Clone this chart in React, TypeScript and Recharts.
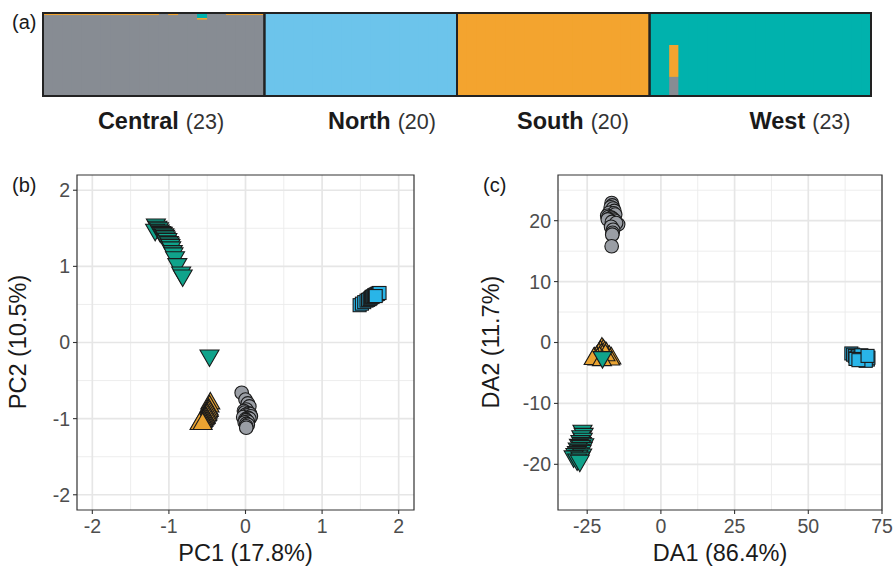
import React from 'react';
import {
  BarChart,
  Bar,
  XAxis,
  YAxis,
  ReferenceArea,
  ScatterChart,
  Scatter,
  CartesianGrid,
} from 'recharts';

// ---------- Panel (a): ancestry proportions per individual ----------
const populations = ['Central', 'North', 'South', 'West'];
const sampleSizes = [23, 20, 20, 23];

const ancestryCentral = [
  0.975, 0.975, 0.975, 0.975, 0.975, 0.975, 0.975, 0.975, 0.975, 0.975, 0.975, 0.975,
  1, 0.975, 1, 1, 0.92, 1, 1, 0.975, 0.975, 0.975, 0.975,
  0, 0, 0, 0, 0, 0, 0, 0, 0, 0, 0, 0, 0, 0, 0, 0, 0, 0, 0, 0,
  0, 0, 0, 0, 0, 0, 0, 0, 0, 0, 0, 0, 0, 0, 0, 0, 0, 0, 0, 0,
  0, 0, 0.23, 0, 0, 0, 0, 0, 0, 0, 0, 0, 0, 0, 0, 0, 0, 0, 0, 0, 0, 0, 0,
];
const ancestryNorth = [
  0, 0, 0, 0, 0, 0, 0, 0, 0, 0, 0, 0, 0, 0, 0, 0, 0, 0, 0, 0, 0, 0, 0,
  1, 1, 1, 1, 1, 1, 1, 1, 1, 1, 1, 1, 1, 1, 1, 1, 1, 1, 1, 1,
  0, 0, 0, 0, 0, 0, 0, 0, 0, 0, 0, 0, 0, 0, 0, 0, 0, 0, 0, 0,
  0, 0, 0, 0, 0, 0, 0, 0, 0, 0, 0, 0, 0, 0, 0, 0, 0, 0, 0, 0, 0, 0, 0,
];
const ancestrySouth = [
  0.025, 0.025, 0.025, 0.025, 0.025, 0.025, 0.025, 0.025, 0.025, 0.025, 0.025, 0.025,
  0, 0.025, 0, 0, 0.02, 0, 0, 0.025, 0.025, 0.025, 0.025,
  0, 0, 0, 0, 0, 0, 0, 0, 0, 0, 0, 0, 0, 0, 0, 0, 0, 0, 0, 0,
  1, 1, 1, 1, 1, 1, 1, 1, 1, 1, 1, 1, 1, 1, 1, 1, 1, 1, 1, 1,
  0, 0, 0.385, 0, 0, 0, 0, 0, 0, 0, 0, 0, 0, 0, 0, 0, 0, 0, 0, 0, 0, 0, 0,
];
const ancestryWest = [
  0, 0, 0, 0, 0, 0, 0, 0, 0, 0, 0, 0, 0, 0, 0, 0, 0.06, 0, 0, 0, 0, 0, 0,
  0, 0, 0, 0, 0, 0, 0, 0, 0, 0, 0, 0, 0, 0, 0, 0, 0, 0, 0, 0,
  0, 0, 0, 0, 0, 0, 0, 0, 0, 0, 0, 0, 0, 0, 0, 0, 0, 0, 0, 0,
  1, 1, 0.385, 1, 1, 1, 1, 1, 1, 1, 1, 1, 1, 1, 1, 1, 1, 1, 1, 1, 1, 1, 1,
];

// ---------- Panel (b): PCA scores [PC1, PC2] ----------
const pcaCentral = [
  [-0.05, -0.66], [0.0, -0.75], [0.03, -0.8], [0.05, -0.84], [0.01, -0.88], [-0.02, -0.9],
  [-0.01, -0.92], [0.04, -0.93], [0.06, -0.94], [0.0, -0.95], [0.02, -0.96], [0.07, -0.97],
  [-0.03, -0.98], [0.03, -0.99], [0.05, -1.0], [0.0, -1.01], [0.01, -1.02], [0.03, -1.04],
  [-0.01, -1.05], [0.01, -1.07], [0.03, -1.08], [0.01, -1.1], [0.01, -1.12],
];
const pcaNorth = [
  [1.49, 0.49], [1.52, 0.51], [1.55, 0.53], [1.58, 0.55], [1.6, 0.56], [1.62, 0.57],
  [1.63, 0.58], [1.64, 0.59], [1.65, 0.6], [1.66, 0.6], [1.67, 0.61], [1.68, 0.62],
  [1.69, 0.62], [1.7, 0.63], [1.71, 0.63], [1.72, 0.64], [1.73, 0.64], [1.74, 0.65],
  [1.75, 0.65], [1.7, 0.61],
];
const pcaSouth = [
  [-0.46, -0.8], [-0.47, -0.84], [-0.48, -0.88], [-0.48, -0.9], [-0.49, -0.92], [-0.5, -0.94],
  [-0.5, -0.95], [-0.51, -0.96], [-0.52, -0.98], [-0.52, -0.99], [-0.53, -1.0], [-0.54, -1.01],
  [-0.55, -1.02], [-0.55, -1.03], [-0.56, -1.04], [-0.57, -1.05], [-0.58, -1.06], [-0.59, -1.06],
  [-0.6, -1.07], [-0.56, -1.07],
];
const pcaWest = [
  [-1.17, 1.55], [-1.15, 1.52], [-1.13, 1.5], [-1.18, 1.48], [-1.12, 1.47], [-1.1, 1.45],
  [-1.08, 1.44], [-1.06, 1.42], [-1.05, 1.4], [-1.04, 1.38], [-1.02, 1.36], [-1.03, 1.33],
  [-1.0, 1.32], [-0.99, 1.3], [-0.98, 1.28], [-0.97, 1.25], [-0.95, 1.2], [-0.94, 1.17],
  [-0.92, 1.12], [-0.89, 1.03], [-0.84, 0.92], [-0.82, 0.88], [-0.47, -0.17],
];

// ---------- Panel (c): DAPC scores [DA1, DA2] ----------
const daCentral = [
  [-16.7, 22.9], [-16.5, 22.5], [-17.0, 22.2], [-16.2, 22.0], [-15.8, 21.6], [-17.5, 21.3],
  [-16.0, 21.2], [-15.5, 21.0], [-18.2, 20.8], [-17.8, 20.6], [-16.8, 20.5], [-16.3, 20.3],
  [-17.2, 20.1], [-15.6, 20.0], [-18.0, 20.2], [-16.6, 19.8], [-14.5, 19.4], [-15.2, 19.6],
  [-16.9, 19.0], [-16.2, 18.5], [-16.4, 18.0], [-16.5, 17.7], [-16.7, 15.8],
];
const daNorth = [
  [64.6, -1.8], [65.2, -2.0], [65.8, -2.2], [66.3, -2.5], [66.8, -2.3], [67.3, -2.6],
  [67.8, -2.8], [68.2, -2.4], [68.6, -2.7], [69.0, -2.5], [69.3, -2.9], [69.6, -2.3],
  [69.9, -2.6], [70.2, -2.8], [70.4, -2.5], [68.0, -2.1], [66.0, -2.7], [69.5, -3.0],
  [67.0, -2.9], [70.1, -2.2],
];
const daSouth = [
  [-20.0, -1.0], [-19.5, -1.3], [-20.5, -1.5], [-19.0, -1.6], [-21.0, -1.9], [-18.5, -1.8],
  [-20.2, -2.0], [-19.8, -2.2], [-21.8, -2.4], [-17.5, -2.3], [-22.5, -2.6], [-16.8, -2.6],
  [-20.8, -2.5], [-18.2, -2.5], [-19.2, -2.7], [-21.5, -2.8], [-17.2, -2.8], [-22.8, -2.7],
  [-18.8, -2.1], [-20.0, -2.9],
];
const daWest = [
  [-26.6, -14.5], [-26.2, -15.0], [-27.0, -15.4], [-26.5, -15.8], [-27.3, -16.2], [-26.8, -16.5],
  [-26.0, -16.7], [-27.8, -16.8], [-27.1, -17.0], [-26.5, -17.3], [-28.2, -17.4], [-27.5, -17.6],
  [-26.9, -17.8], [-28.5, -18.0], [-27.8, -18.2], [-29.0, -18.3], [-26.7, -18.4], [-28.0, -18.6],
  [-29.6, -18.7], [-27.3, -18.9], [-28.4, -19.2], [-27.5, -19.4], [-19.8, -2.4],
];

// ---------- Axis ticks ----------
const pcTicks = [-2, -1, 0, 1, 2];
const pcMinor = [-1.5, -0.5, 0.5, 1.5];
const da1Ticks = [-25, 0, 25, 50, 75];
const da1Minor = [-12.5, 12.5, 37.5, 62.5];
const da2Ticks = [-20, -10, 0, 10, 20];
const da2Minor = [-25, -15, -5, 5, 15, 25];

// ---------- Styles ----------
const FONT = '"Liberation Sans", Arial, Helvetica, sans-serif';
const barColors = ['#878C93', '#6CC4EB', '#F3A42F', '#00B2AD'];
const pointColors = ['#9A9EA5', '#29B5E8', '#E9A332', '#10A38B'];
const OUTLINE = '#1a1a1a';

const toXY = (arr: number[][]) => arr.map(([x, y]) => ({ x, y }));

const structureRows = ancestryCentral.map((_, i) => ({
  id: 'ind' + (i + 1),
  central: ancestryCentral[i],
  north: ancestryNorth[i],
  south: ancestrySouth[i],
  west: ancestryWest[i],
}));

const groupRanges = (() => {
  let start = 0;
  return sampleSizes.map((n, g) => {
    const r = { name: populations[g], first: 'ind' + (start + 1), last: 'ind' + (start + n), g };
    start += n;
    return r;
  });
})();

const circleShape = (fill: string) => (p: any) => (
  <circle cx={p.cx} cy={p.cy} r={6.8} fill={fill} stroke={OUTLINE} strokeWidth={1.1} />
);
const squareShape = (fill: string) => (p: any) => (
  <rect x={p.cx - 6.5} y={p.cy - 6.5} width={13} height={13} fill={fill} stroke={OUTLINE} strokeWidth={1.1} />
);
const triUpShape = (fill: string) => (p: any) => {
  const s = 19, h = 16.5;
  const pts = `${p.cx},${p.cy - (2 * h) / 3} ${p.cx - s / 2},${p.cy + h / 3} ${p.cx + s / 2},${p.cy + h / 3}`;
  return <polygon points={pts} fill={fill} stroke={OUTLINE} strokeWidth={1.1} strokeLinejoin="miter" />;
};
const triDownShape = (fill: string) => (p: any) => {
  const s = 19, h = 16.5;
  const pts = `${p.cx},${p.cy + (2 * h) / 3} ${p.cx - s / 2},${p.cy - h / 3} ${p.cx + s / 2},${p.cy - h / 3}`;
  return <polygon points={pts} fill={fill} stroke={OUTLINE} strokeWidth={1.1} strokeLinejoin="miter" />;
};

const tickStyle = { fill: '#4D4D4D', fontSize: 19.5, fontFamily: FONT };
const tickLineStyle = { stroke: '#333333', strokeWidth: 1.1 };

function ScatterPanel(props: {
  left: number; width: number; marginLeft: number; marginRight: number;
  xDomain: number[]; yDomain: number[]; xTicks: number[]; yTicks: number[];
  xMinor: number[]; yMinor: number[]; series: number[][][];
}) {
  const { left, width, marginLeft, marginRight, xDomain, yDomain, xTicks, yTicks, xMinor, yMinor, series } = props;
  const shapes = [circleShape, squareShape, triUpShape, triDownShape];
  const order = [0, 1, 2, 3];
  return (
    <div style={{ position: 'absolute', left, top: 0 }}>
      <ScatterChart width={width} height={576} margin={{ top: 175, right: marginRight, bottom: 36, left: marginLeft }}>
        <CartesianGrid verticalValues={xMinor} horizontalValues={yMinor} stroke="#EBEBEB" strokeWidth={0.9} />
        <CartesianGrid verticalValues={xTicks} horizontalValues={yTicks} stroke="#E6E6E6" strokeWidth={1.7} />
        <XAxis
          type="number" dataKey="x" domain={xDomain} ticks={xTicks} allowDataOverflow
          axisLine={false} tickLine={tickLineStyle} tickSize={4} tickMargin={5} tick={tickStyle} height={30}
          interval={0}
        />
        <YAxis
          type="number" dataKey="y" domain={yDomain} ticks={yTicks} allowDataOverflow
          axisLine={false} tickLine={tickLineStyle} tickSize={4} tickMargin={3} tick={tickStyle} width={50}
          interval={0}
        />
        {order.map((g) => (
          <Scatter
            key={populations[g]}
            name={populations[g]}
            data={toXY(series[g])}
            shape={shapes[g](pointColors[g])}
            isAnimationActive={false}
          />
        ))}
        <ReferenceArea
          x1={xDomain[0]} x2={xDomain[1]} y1={yDomain[0]} y2={yDomain[1]}
          fill="none" fillOpacity={0} stroke="#333333" strokeWidth={1.2} ifOverflow="visible"
          zIndex={1500}
        />
      </ScatterChart>
    </div>
  );
}

const labelCenters = [161, 382, 573, 800];

export default function App() {
  return (
    <div style={{ position: 'absolute', left: 0, top: 0, width: 894, height: 576, background: '#ffffff', fontFamily: FONT }}>
      {/* Panel (a) */}
      <div style={{ position: 'absolute', left: 0, top: 0 }}>
        <BarChart
          width={894} height={100} data={structureRows}
          margin={{ top: 13, right: 23, bottom: 4, left: 43 }}
          barCategoryGap={0} barGap={0}
        >
          <XAxis dataKey="id" hide />
          <YAxis hide domain={[0, 1]} />
          {groupRanges.map((r) => (
            <ReferenceArea
              key={'bg' + r.name} x1={r.first} x2={r.last} y1={0} y2={1}
              fill={barColors[r.g]} fillOpacity={1} stroke="none" zIndex={50}
            />
          ))}
          <Bar dataKey="central" stackId="q" fill={barColors[0]} isAnimationActive={false} />
          <Bar dataKey="north" stackId="q" fill={barColors[1]} isAnimationActive={false} />
          <Bar dataKey="south" stackId="q" fill={barColors[2]} isAnimationActive={false} />
          <Bar dataKey="west" stackId="q" fill={barColors[3]} isAnimationActive={false} />
          {groupRanges.map((r) => (
            <ReferenceArea
              key={'bd' + r.name} x1={r.first} x2={r.last} y1={0} y2={1}
              fill="none" fillOpacity={0} stroke="#222222" strokeWidth={2} zIndex={1500}
            />
          ))}
        </BarChart>
      </div>

      {/* Panel (b) */}
      <ScatterPanel
        left={0} width={440} marginLeft={27} marginRight={26}
        xDomain={[-2.2, 2.2]} yDomain={[-2.2, 2.2]}
        xTicks={pcTicks} yTicks={pcTicks} xMinor={pcMinor} yMinor={pcMinor}
        series={[pcaCentral, pcaNorth, pcaSouth, pcaWest]}
      />

      {/* Panel (c) */}
      <ScatterPanel
        left={440} width={454} marginLeft={68} marginRight={12}
        xDomain={[-34.9, 75]} yDomain={[-27.5, 27.5]}
        xTicks={da1Ticks} yTicks={da2Ticks} xMinor={da1Minor} yMinor={da2Minor}
        series={[daCentral, daNorth, daSouth, daWest]}
      />

      {/* Text overlay */}
      <svg width={894} height={576} style={{ position: 'absolute', left: 0, top: 0, pointerEvents: 'none' }}>
        <g fontFamily={FONT} fill="#1a1a1a">
          <text x={12} y={29} fontSize={20}>(a)</text>
          <text x={12} y={192} fontSize={20}>(b)</text>
          <text x={483} y={192} fontSize={20}>(c)</text>
          {populations.map((p, i) => (
            <text key={p} x={labelCenters[i]} y={129} textAnchor="middle">
              <tspan fontWeight="bold" fontSize={23.5}>{p}</tspan>
              <tspan fontSize={21.5} dx={7} fill="#333333">({sampleSizes[i]})</tspan>
            </text>
          ))}
          <text x={245.5} y={561} fontSize={23.5} textAnchor="middle">PC1 (17.8%)</text>
          <text x={720} y={561} fontSize={23.5} textAnchor="middle">DA1 (86.4%)</text>
          <text x={0} y={0} fontSize={23.5} textAnchor="middle" transform="translate(26,342) rotate(-90)">PC2 (10.5%)</text>
          <text x={0} y={0} fontSize={23.5} textAnchor="middle" transform="translate(499,342) rotate(-90)">DA2 (11.7%)</text>
        </g>
      </svg>
    </div>
  );
}
